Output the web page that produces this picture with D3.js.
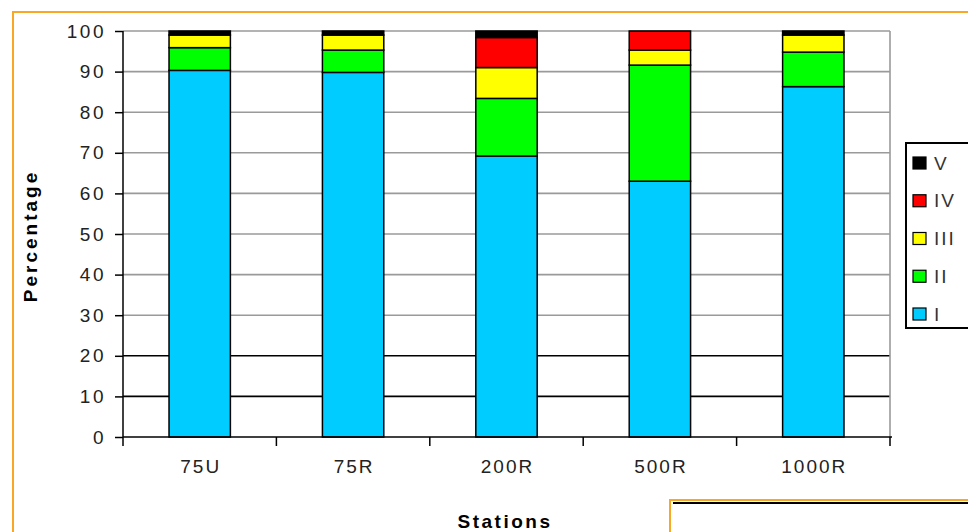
<!DOCTYPE html>
<html><head><meta charset="utf-8">
<script src="https://cdn.jsdelivr.net/npm/d3@7"></script>
<style>body{margin:0;background:#fff}svg{display:block}</style>
</head><body>
<svg id="c" width="968" height="532"></svg>
<script>
const stations = ["75U","75R","200R","500R","1000R"];
const classes = ["I","II","III","IV","V"];
const seriesI   = [90.3, 89.8, 69.2, 63.0, 86.3];
const seriesII  = [5.6, 5.5, 14.2, 28.6, 8.5];
const seriesIII = [3.1, 3.7, 7.6, 3.7, 4.2];
const seriesIV  = [0.0, 0.0, 7.4, 4.7, 0.0];
const seriesV   = [1.0, 1.0, 1.6, 0.0, 1.0];
const yTicks = [0,10,20,30,40,50,60,70,80,90,100];
const colors = ["#00CCFF","#00FF00","#FFFF00","#FF0000","#000000"];

const rows = stations.map((s,i)=>({station:s, I:seriesI[i], II:seriesII[i], III:seriesIII[i], IV:seriesIV[i], V:seriesV[i]}));
const stack = d3.stack().keys(classes)(rows);

const svg = d3.select("#c");
const L=123, R=890, T=31, B=437;
const x = d3.scaleBand().domain(stations).range([L,R]).paddingInner(0.6).paddingOuter(0.3);
const y = d3.scaleLinear().domain([0,100]).range([B,T]);
const font = "'Liberation Sans', Arial, sans-serif";

// outer orange frame
svg.append("path").attr("d","M13,532 V12 H968").attr("fill","none").attr("stroke","#F9A825").attr("stroke-width",2);

// gridlines
svg.append("g").selectAll("line").data(yTicks.filter(d=>d>0)).join("line")
  .attr("x1",L).attr("x2",R).attr("y1",d=>y(d)).attr("y2",d=>y(d))
  .attr("stroke",d=>(d===10||d===20)?"#000":"#9a9a9a").attr("stroke-width",1.6);
svg.append("line").attr("x1",R).attr("x2",R).attr("y1",T).attr("y2",B).attr("stroke","#9a9a9a").attr("stroke-width",1.6);

// bars
svg.append("g").selectAll("g").data(stack).join("g").attr("fill",(d,i)=>colors[i])
  .selectAll("rect").data(d=>d.filter(v=>v[1]-v[0]>0)).join("rect")
  .attr("x",d=>x(d.data.station)).attr("width",x.bandwidth())
  .attr("y",d=>y(d[1])).attr("height",d=>y(d[0])-y(d[1]))
  .attr("stroke","#000").attr("stroke-width",1.5);

// y axis
const ya = svg.append("g").attr("transform",`translate(${L},0)`)
  .call(d3.axisLeft(y).tickValues(yTicks).tickSize(8).tickPadding(9));
ya.select(".domain").attr("stroke","#000").attr("stroke-width",1.5).attr("d",`M0,${T}V${B}`);
ya.selectAll(".tick line").attr("stroke","#000").attr("stroke-width",1.5);
ya.selectAll(".tick text").attr("font-family",font).attr("font-size",19).attr("fill","#222").attr("letter-spacing","2.5px");

// x axis
const xa = svg.append("g").attr("transform",`translate(0,${B})`)
  .call(d3.axisBottom(x).tickSize(0).tickPadding(23));
xa.select(".domain").attr("stroke","#000").attr("stroke-width",1.5).attr("d",`M${L},0H${R+2}`);
xa.selectAll(".tick text").attr("font-family",font).attr("font-size",19).attr("fill","#222").attr("letter-spacing","2px").attr("dx","1");
const edges = [L].concat(stations.slice(1).map(s=>x(s)-(x.step()-x.bandwidth())/2), [R]);
svg.append("g").selectAll("line").data(edges).join("line")
  .attr("x1",d=>d).attr("x2",d=>d).attr("y1",B).attr("y2",B+9).attr("stroke","#000").attr("stroke-width",1.5);

// axis titles
svg.append("text").attr("transform","translate(37,236) rotate(-90)").attr("text-anchor","middle")
  .attr("font-family",font).attr("font-weight","bold").attr("font-size",19).attr("letter-spacing","3px").text("Percentage");
svg.append("text").attr("x",505).attr("y",528).attr("text-anchor","middle")
  .attr("font-family",font).attr("font-weight","bold").attr("font-size",19).attr("letter-spacing","2.5px").text("Stations");

// legend
const lg = svg.append("g");
lg.append("rect").attr("x",906).attr("y",143).attr("width",80).attr("height",185).attr("fill","#fff").attr("stroke","#000").attr("stroke-width",2);
const legItems = classes.slice().reverse();
const ly = d3.scalePoint().domain(legItems).range([163,314]);
lg.selectAll("rect.s").data(legItems).join("rect").attr("class","s")
  .attr("x",913).attr("y",d=>ly(d)-6).attr("width",13).attr("height",12)
  .attr("fill",d=>colors[classes.indexOf(d)]).attr("stroke","#000").attr("stroke-width",1.2);
lg.selectAll("text").data(legItems).join("text")
  .attr("x",934).attr("y",d=>ly(d)).attr("dy","0.35em")
  .attr("font-family",font).attr("font-size",19).attr("fill","#333").attr("letter-spacing","2px").text(d=>d);

// bottom-right box
svg.append("rect").attr("x",670).attr("y",500).attr("width",320).attr("height",60).attr("fill","#fff").attr("stroke","#F9A825").attr("stroke-width",2);
svg.append("line").attr("x1",673).attr("x2",968).attr("y1",503).attr("y2",503).attr("stroke","#000").attr("stroke-width",2);
</script>
</body></html>
